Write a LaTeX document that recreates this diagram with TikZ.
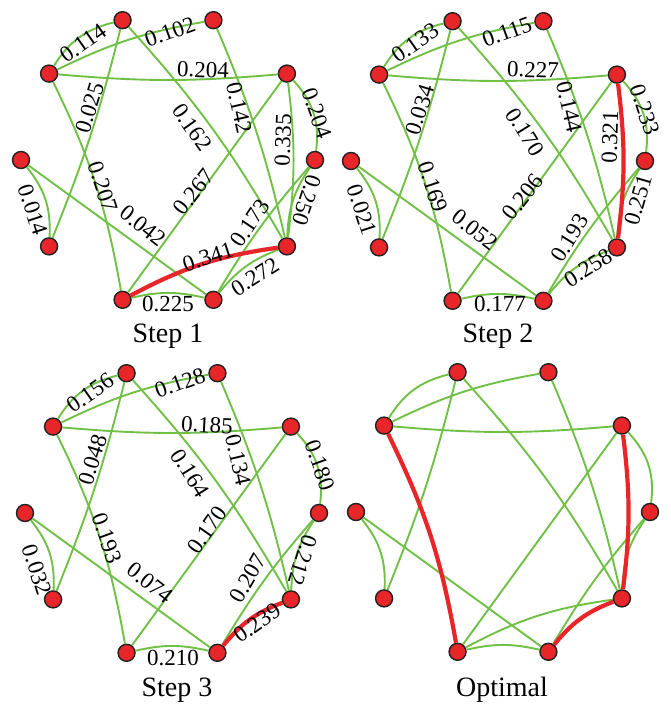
\documentclass[tikz,border=0pt]{standalone}
\usepackage{fontspec}
\setmainfont{Liberation Serif}
\definecolor{edgegreen}{RGB}{112,192,70}
\definecolor{edgered}{RGB}{232,38,42}
\definecolor{nodered}{RGB}{232,38,42}
\definecolor{nodeborder}{RGB}{35,31,32}
\begin{document}
\begin{tikzpicture}[x=1pt,y=1pt,
  vertex/.style={circle,fill=nodered,draw=nodeborder,line width=1.4pt,minimum size=17pt,inner sep=0pt},
  gedge/.style={draw=edgegreen,line width=1.9pt},
  redge/.style={draw=edgered,line width=4.2pt},
  lab/.style={font=\fontsize{23}{23}\selectfont,inner sep=0pt},
  title/.style={font=\fontsize{28}{28}\selectfont,anchor=base,inner sep=0pt}]
\useasboundingbox (0,0) rectangle (671,705);
\foreach \p/\cx/\cy in {1/168/545,2/498/544,3/172/192,4/503/193}{
  \foreach \n/\a in {A/108,B/72,C/144,D/36,E/180,F/0,G/216,H/324,I/252,J/288}
    \node[vertex] (p\p\n) at ([shift={(\cx,\cy)}]\a:147) {};
  \foreach \u/\v/\b in {C/A/22,C/B/8,C/D/-5,A/G/4,A/H/6,B/H/5,D/I/0,D/F/25,F/H/-16,F/J/-5,E/G/21,E/J/0,I/J/13}
    \draw[gedge] (p\p\u) to[bend left=\b] (p\p\v);
}
% C-I
\draw[gedge] (p1C) to[bend left=8] (p1I);
\draw[gedge] (p2C) to[bend left=8] (p2I);
\draw[gedge] (p3C) to[bend left=8] (p3I);
% J-H
\draw[gedge] (p1J) to[bend left=15] (p1H);
\draw[gedge] (p2J) to[bend left=15] (p2H);
% D-H
\draw[gedge] (p1D) to[bend left=7] (p1H);
% I-H
\draw[gedge] (p4I) to[bend left=10] (p4H);
% red edges
\draw[redge] (p1I) to[bend left=10] (p1H);
\draw[redge] (p2D) to[bend left=7] (p2H);
\draw[redge] (p3J) to[bend left=15] (p3H);
\draw[redge] (p4C) to[bend left=8] (p4I);
\draw[redge] (p4D) to[bend left=7] (p4H);
\draw[redge] (p4J) to[bend left=15] (p4H);
% labels step 1
\foreach \x/\y/\r/\t [count=\i] in {83/662/35/0.114, 170/673/20/0.102, 203/635/-2/0.204, 90/597/73/0.025,
  192/578/-55/0.162, 239/597/-77/0.142, 283/565/88/0.335, 317/592/-70/0.204, 33/495/-72/0.014,
  103/518/-72/0.207, 143/479/-38/0.042, 194/513/52/0.267, 250/482/56/0.173, 307/505/-108/0.250,
  208/448/18/0.341, 168/401/0/0.225, 255/428/32/0.272}
  \node[lab,rotate=\r] (la\i) at (\x,\y) {\t};
% labels step 2
\foreach \x/\y/\r/\t [count=\i] in {415/662/35/0.133, 507/673/20/0.115, 533/635/-2/0.227, 420/595/73/0.034,
  525/573/-58/0.170, 569/598/-77/0.144, 610/568/88/0.321, 645/595/-72/0.233, 362/495/-72/0.021,
  433/518/-72/0.169, 475/475/-38/0.052, 523/508/52/0.206, 570/467/58/0.193, 638/505/74/0.251,
  588/437/32/0.258, 500/401/0/0.177}
  \node[lab,rotate=\r] (lb\i) at (\x,\y) {\t};
% labels step 3
\foreach \x/\y/\r/\t [count=\i] in {90/312/35/0.156, 180/322/20/0.128, 207/280/-3/0.185, 93/245/73/0.048,
  190/232/-58/0.164, 238/245/-77/0.134, 320/240/-70/0.180, 37/135/-72/0.032, 107/167/-70/0.193,
  150/122/-38/0.074, 207/175/55/0.170, 248/127/60/0.207, 303/145/-108/0.212, 257/82/35/0.239,
  173/47/0/0.210}
  \node[lab,rotate=\r] (lc\i) at (\x,\y) {\t};
% titles
\node[title] (t1) at (168,362) {Step 1};
\node[title] (t2) at (498,362) {Step 2};
\node[title] (t3) at (177,9) {Step 3};
\node[title] (t4) at (502,9) {Optimal};
\end{tikzpicture}
\end{document}
